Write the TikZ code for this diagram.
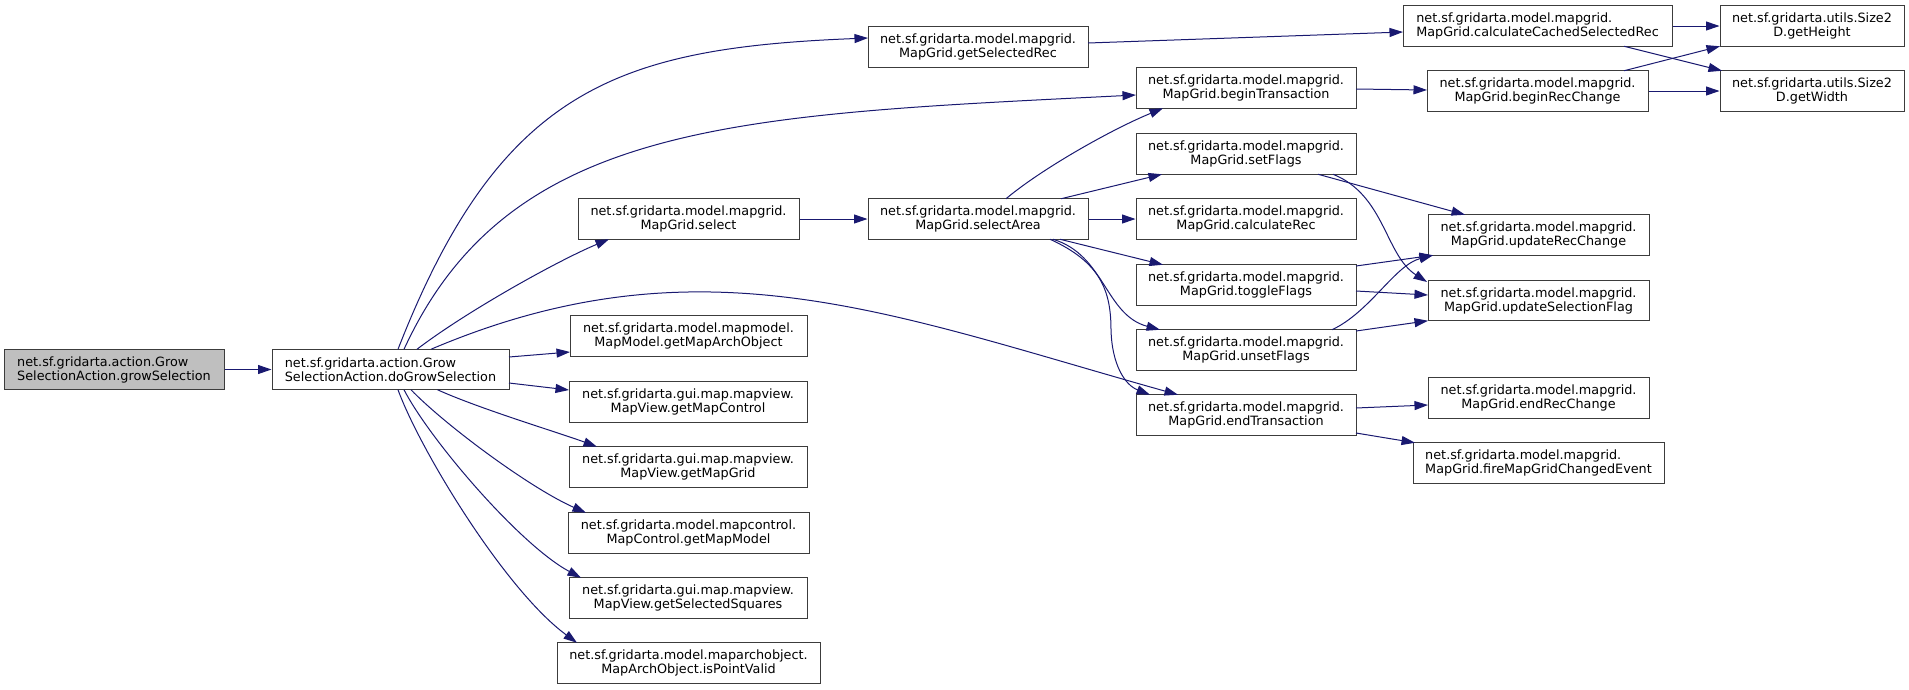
\documentclass[tikz,border=0pt]{standalone}
\usepackage{fontspec}
\newfontfamily\dvs{DejaVu Sans}
\usetikzlibrary{arrows.meta,calc}
\definecolor{edgeblue}{RGB}{25,25,112}
\definecolor{rootfill}{RGB}{191,191,191}
\definecolor{boxline}{RGB}{60,60,60}
\begin{document}
\begin{tikzpicture}[x=1pt,y=-1pt,
  box/.style={draw=boxline, line width=1pt, fill=white, minimum height=40.5pt, inner sep=0pt,
    font=\dvs\fontsize{12.8pt}{14pt}\selectfont, align=center},
  lbox/.style={box, align=left},
  rootbox/.style={box, fill=rootfill, align=left},
  edge/.style={draw=edgeblue, line width=1pt, -{Triangle[length=13.5pt,width=9pt]}}]
\useasboundingbox (0,0) rectangle (1909,689);

% nodes
\node[rootbox, minimum width=220pt] (A) at (114,369.5) {net.sf.gridarta.action.Grow\\SelectionAction.growSelection};
\node[lbox, minimum width=237pt] (B) at (390.5,369.5) {net.sf.gridarta.action.Grow\\SelectionAction.doGrowSelection};

\node[box, minimum width=221pt] (sel) at (688.5,219) {net.sf.gridarta.model.mapgrid.\\MapGrid.select};
\node[box, minimum width=237pt] (gmao) at (688.5,336) {net.sf.gridarta.model.mapmodel.\\MapModel.getMapArchObject};
\node[box, minimum width=238pt] (gmc) at (688,402) {net.sf.gridarta.gui.map.mapview.\\MapView.getMapControl};
\node[box, minimum width=238pt] (gmg) at (688,467) {net.sf.gridarta.gui.map.mapview.\\MapView.getMapGrid};
\node[box, minimum width=241pt] (gmm) at (688.5,533) {net.sf.gridarta.model.mapcontrol.\\MapControl.getMapModel};
\node[box, minimum width=238pt] (gss) at (688,598) {net.sf.gridarta.gui.map.mapview.\\MapView.getSelectedSquares};
\node[box, minimum width=263pt] (ipv) at (688.5,663) {net.sf.gridarta.model.maparchobject.\\MapArchObject.isPointValid};

\node[box, minimum width=220pt] (gsr) at (978,47) {net.sf.gridarta.model.mapgrid.\\MapGrid.getSelectedRec};
\node[box, minimum width=220pt] (sa) at (978,219) {net.sf.gridarta.model.mapgrid.\\MapGrid.selectArea};

\node[box, minimum width=220pt] (bt) at (1246,88) {net.sf.gridarta.model.mapgrid.\\MapGrid.beginTransaction};
\node[box, minimum width=220pt] (sf) at (1246,154) {net.sf.gridarta.model.mapgrid.\\MapGrid.setFlags};
\node[box, minimum width=220pt] (cr) at (1246,219) {net.sf.gridarta.model.mapgrid.\\MapGrid.calculateRec};
\node[box, minimum width=220pt] (tf) at (1246,285) {net.sf.gridarta.model.mapgrid.\\MapGrid.toggleFlags};
\node[box, minimum width=220pt] (uf) at (1246,350) {net.sf.gridarta.model.mapgrid.\\MapGrid.unsetFlags};
\node[box, minimum width=220pt] (et) at (1246,415) {net.sf.gridarta.model.mapgrid.\\MapGrid.endTransaction};

\node[lbox, minimum width=269pt] (ccsr) at (1537.5,26) {net.sf.gridarta.model.mapgrid.\\MapGrid.calculateCachedSelectedRec};
\node[box, minimum width=221pt] (brc) at (1537.5,91) {net.sf.gridarta.model.mapgrid.\\MapGrid.beginRecChange};
\node[box, minimum width=221pt] (urc) at (1538.5,235) {net.sf.gridarta.model.mapgrid.\\MapGrid.updateRecChange};
\node[box, minimum width=221pt] (usf) at (1538.5,300.5) {net.sf.gridarta.model.mapgrid.\\MapGrid.updateSelectionFlag};
\node[box, minimum width=221pt] (erc) at (1538.5,398) {net.sf.gridarta.model.mapgrid.\\MapGrid.endRecChange};
\node[lbox, minimum width=251pt] (fire) at (1538.5,463) {net.sf.gridarta.model.mapgrid.\\MapGrid.fireMapGridChangedEvent};

\node[box, minimum width=184pt] (gh) at (1812,26) {net.sf.gridarta.utils.Size2\\D.getHeight};
\node[box, minimum width=184pt] (gw) at (1812,91) {net.sf.gridarta.utils.Size2\\D.getWidth};

% edges
\draw[edge] (A.east) -- (B.west);
\draw[edge] ($(B)+(7.5,-20.25)$) .. controls (500,88) and (618,48) .. ($(gsr)+(-110,-9)$);
\draw[edge] ($(B)+(13.5,-20.25)$) .. controls (509,121.5) and (736,115) .. ($(bt)+(-110,7)$);
\draw[edge] ($(B)+(26.5,-20.25)$) .. controls (467,311) and (559,260) .. ($(sel)+(-79.5,20.25)$);
\draw[edge] ($(B)+(40.5,-20.25)$) .. controls (700,235) and (890,314) .. ($(et)+(-68,-20.25)$);
\draw[edge] ($(B)+(118.5,-12.5)$) -- ($(gmao)+(-118.5,16)$);
\draw[edge] ($(B)+(118.5,13.5)$) -- ($(gmc)+(-119,-12)$);
\draw[edge] ($(B)+(47,20.25)$) .. controls (480,409) and (560,433) .. ($(gmg)+(-91,-20.25)$);
\draw[edge] ($(B)+(20.5,20.25)$) .. controls (445,425) and (530,488) .. ($(gmm)+(-102.5,-20.25)$);
\draw[edge] ($(B)+(13.5,20.25)$) .. controls (430,440) and (520,545) .. ($(gss)+(-107,-20.25)$);
\draw[edge] ($(B)+(7.5,20.25)$) .. controls (420,450) and (505,590) .. ($(ipv)+(-111.5,-20.25)$);

\draw[edge] (sel.east) -- (sa.west);
\draw[edge] ($(sa)+(28,-20.25)$) .. controls (1040,170) and (1110,130) .. ($(bt)+(-83,20.25)$);
\draw[edge] ($(sa)+(83,-20.25)$) -- ($(sf)+(-84,20.25)$);
\draw[edge] (sa.east) -- (cr.west);
\draw[edge] ($(sa)+(82,20.25)$) -- ($(tf)+(-83,-20.25)$);
\draw[edge] ($(sa)+(75,20.25)$) .. controls (1105,255) and (1105,315) .. ($(uf)+(-86,-20.25)$);
\draw[edge] ($(sa)+(72,20.25)$) .. controls (1100,262) and (1111,290) .. (1111,330)
   .. controls (1112,365) and (1125,385) .. ($(et)+(-96,-20.25)$);

\draw[edge] ($(gsr)+(110,-4)$) -- ($(ccsr)+(-134.5,6)$);
\draw[edge] (ccsr.east) -- (gh.west);
\draw[edge] ($(ccsr)+(86.5,20.25)$) -- ($(gw)+(-90,-20.25)$);
\draw[edge] ($(bt)+(110,1)$) -- ($(brc)+(-110.5,-1)$);
\draw[edge] ($(brc)+(86.5,-20.25)$) -- ($(gh)+(-92,20.25)$);
\draw[edge] (brc.east) -- (gw.west);

\draw[edge] ($(sf)+(72,20.25)$) -- ($(urc)+(-73.5,-20.25)$);
\draw[edge] ($(sf)+(87,20.25)$) .. controls (1385,195) and (1385,255) .. ($(usf)+(-111.5,-18.5)$);
\draw[edge] ($(tf)+(110,-19)$) -- ($(urc)+(-105.5,20.25)$);
\draw[edge] ($(tf)+(110,6)$) -- ($(usf)+(-110.5,-5.5)$);
\draw[edge] ($(uf)+(86,-20.25)$) .. controls (1370,312) and (1395,265) .. ($(urc)+(-105.5,20.25)$);
\draw[edge] ($(uf)+(110,-19)$) -- ($(usf)+(-110.5,20.25)$);
\draw[edge] ($(et)+(110,-7)$) -- ($(erc)+(-110.5,7)$);
\draw[edge] ($(et)+(110,18)$) -- ($(fire)+(-123.5,-20.25)$);
\end{tikzpicture}
\end{document}
